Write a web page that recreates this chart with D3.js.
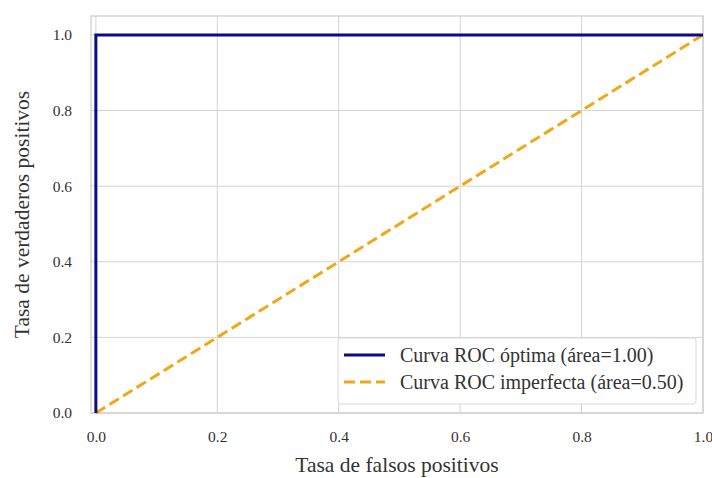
<!DOCTYPE html>
<html>
<head>
<meta charset="utf-8">
<script src="https://cdn.jsdelivr.net/npm/d3@7"></script>
<style>
  body { margin: 0; background: #fff; }
  text { font-family: "Liberation Serif", "Times New Roman", serif; fill: #333; }
</style>
</head>
<body>
<svg id="roc"></svg>
<script>
// data
const optimalX = [0, 0, 1];
const optimalY = [0, 1, 1];
const randomX = [0, 1];
const randomY = [0, 1];
const ticks = [0, 0.2, 0.4, 0.6, 0.8, 1.0];
const seriesNames = ["Curva ROC óptima (área=1.00)", "Curva ROC imperfecta (área=0.50)"];

// dimensions
const width = 712;
const height = 478;
const margin = {top: 16, right: 9, bottom: 65, left: 91};

const svg = d3.select('#roc')
  .attr('width', width)
  .attr('height', height);

// scales
const xScale = d3.scaleLinear()
  .domain([-0.008, 1.0])
  .range([margin.left, width - margin.right]);

const yScale = d3.scaleLinear()
  .domain([0, 1.05])
  .range([height - margin.bottom, margin.top]);

// grid
svg.append('g')
  .selectAll('line')
  .data(ticks)
  .enter().append('line')
  .attr('x1', d => xScale(d)).attr('x2', d => xScale(d))
  .attr('y1', margin.top).attr('y2', yScale.range()[0])
  .style('stroke', '#d4d4d4').style('stroke-width', 1);

svg.append('g')
  .selectAll('line')
  .data(ticks)
  .enter().append('line')
  .attr('x1', margin.left).attr('x2', width - margin.right)
  .attr('y1', d => yScale(d)).attr('y2', d => yScale(d))
  .style('stroke', '#d4d4d4').style('stroke-width', 1);

// frame
svg.append('rect')
  .attr('x', margin.left)
  .attr('y', margin.top)
  .attr('width', width - margin.right - margin.left)
  .attr('height', yScale.range()[0] - margin.top)
  .style('fill', 'none')
  .style('stroke', '#cccccc')
  .style('stroke-width', 1.2);

// axes
const xAxis = d3.axisBottom(xScale).tickValues(ticks).tickSize(0).tickPadding(18).tickFormat(d3.format('.1f'));
const yAxis = d3.axisLeft(yScale).tickValues(ticks).tickSize(0).tickPadding(19).tickFormat(d3.format('.1f'));

const gx = svg.append('g')
  .attr('transform', `translate(0, ${yScale.range()[0]})`)
  .call(xAxis);
const gy = svg.append('g')
  .attr('transform', `translate(${margin.left}, 0)`)
  .call(yAxis);
[gx, gy].forEach(g => {
  g.select('.domain').remove();
  g.selectAll('text').style('font-size', '15.5px').style('font-family', '"Liberation Serif", serif').style('fill', '#333');
});

// axis labels
svg.append('text')
  .attr('x', (margin.left + width - margin.right) / 2)
  .attr('y', 472)
  .style('text-anchor', 'middle')
  .style('font-size', '21.5px')
  .text('Tasa de falsos positivos');

svg.append('text')
  .attr('transform', `translate(29, ${(margin.top + yScale.range()[0]) / 2}) rotate(-90)`)
  .style('text-anchor', 'middle')
  .style('font-size', '21.5px')
  .text('Tasa de verdaderos positivos');

// lines
const line = d3.line().x(d => xScale(d[0])).y(d => yScale(d[1]));

svg.append('path')
  .datum(d3.zip(randomX, randomY))
  .attr('d', line)
  .style('fill', 'none')
  .style('stroke', '#f0a818')
  .style('stroke-width', 3)
  .style('stroke-dasharray', '11,5');

svg.append('path')
  .datum(d3.zip(optimalX, optimalY))
  .attr('d', line)
  .style('fill', 'none')
  .style('stroke', '#0a0a8c')
  .style('stroke-width', 3);

// legend
const legend = svg.append('g').attr('transform', 'translate(338, 338)');
legend.append('rect')
  .attr('width', 358)
  .attr('height', 66)
  .attr('rx', 3)
  .style('fill', '#fff')
  .style('fill-opacity', 0.9)
  .style('stroke', '#d8d8d8');

const styles = [
  {color: '#0a0a8c', dash: null},
  {color: '#f0a818', dash: '11,5'}
];
const items = legend.selectAll('.legend')
  .data(seriesNames)
  .enter().append('g')
  .attr('class', 'legend')
  .attr('transform', (d, i) => `translate(0, ${17 + i * 27})`);
items.append('line')
  .attr('x1', 6).attr('x2', 47)
  .style('stroke', (d, i) => styles[i].color)
  .style('stroke-width', 3)
  .style('stroke-dasharray', (d, i) => styles[i].dash);
items.append('text')
  .attr('x', 62)
  .attr('dy', '0.35em')
  .style('font-size', '20px')
  .text(d => d);
</script>
</body>
</html>
